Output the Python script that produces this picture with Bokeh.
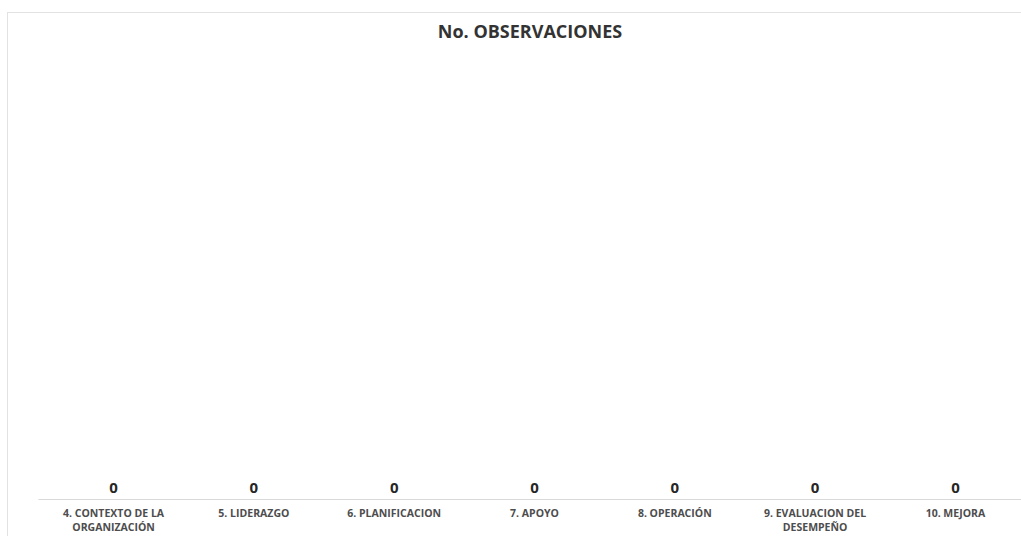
from bokeh.plotting import figure
from bokeh.models import ColumnDataSource, LabelSet, Range1d, FixedTicker
from bokeh.core.properties import value
from bokeh.embed import file_html
from bokeh.resources import INLINE

categories = ["4. CONTEXTO DE LA\nORGANIZACIÓN", "5. LIDERAZGO", "6. PLANIFICACION",
              "7. APOYO", "8. OPERACIÓN", "9. EVALUACION DEL\nDESEMPEÑO", "10. MEJORA"]
values = [0, 0, 0, 0, 0, 0, 0]
title_text = "No. OBSERVACIONES"

xs = list(range(len(categories)))
src = ColumnDataSource(dict(x=xs, top=values, label=[str(v) for v in values]))

p = figure(width=1021, height=536, output_backend="svg", toolbar_location=None,
           x_range=Range1d(-0.535, 6.471), y_range=Range1d(0, 10),
           min_border_left=38, min_border_right=0, min_border_bottom=30, min_border_top=46)

p.border_fill_color = None
p.background_fill_color = None
p.styles = {
    "background": "linear-gradient(#e2e2e2,#e2e2e2) 7px 12px / 1px 100% no-repeat, "
                  "linear-gradient(#e2e2e2,#e2e2e2) 7px 12px / 100% 1px no-repeat, white"
}

p.title.text = title_text
p.title.align = "center"
p.title.text_font = "Open Sans"
p.title.text_font_style = "bold"
p.title.text_font_size = "18px"
p.title.text_color = "#333333"
p.title.standoff = 8

p.vbar(x="x", top="top", width=0.6, bottom=0, source=src, fill_color="#4472C4", line_color=None)

labels = LabelSet(x="x", y="top", text="label", source=src, text_align="center",
                  text_baseline="middle", y_offset=12, text_font=value("Open Sans"),
                  text_font_style="bold", text_font_size="15px", text_color="#262626")
p.add_layout(labels)

p.xaxis.ticker = FixedTicker(ticks=xs)
p.xaxis.major_label_overrides = {i: c for i, c in zip(xs, categories)}
p.xaxis.major_label_text_font = "Open Sans"
p.xaxis.major_label_text_font_style = "bold"
p.xaxis.major_label_text_font_size = "10.5px"
p.xaxis.major_label_text_line_height = 1.0
p.xaxis.major_label_text_color = "#4d4d4d"
p.xaxis.major_label_standoff = 6
p.xaxis.major_tick_line_color = None
p.xaxis.minor_tick_line_color = None
p.xaxis.major_tick_out = 0
p.xaxis.minor_tick_out = 0
p.xaxis.major_tick_in = 0
p.xaxis.minor_tick_in = 0
p.xaxis.axis_line_color = "#d9d9d9"
p.xaxis.axis_line_width = 1
p.yaxis.visible = False
p.xgrid.grid_line_color = None
p.ygrid.grid_line_color = None
p.outline_line_color = None

open("out.html", "w").write(file_html(p, INLINE))
